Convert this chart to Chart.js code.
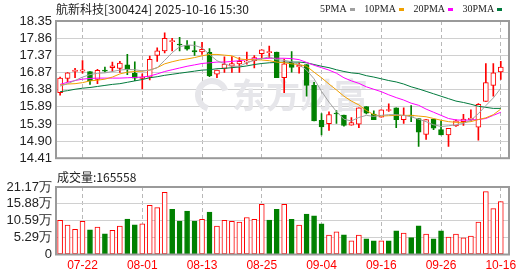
<!DOCTYPE html>
<html>
<head>
<meta charset="utf-8">
<title>航新科技 K线</title>
<script src="https://cdn.jsdelivr.net/npm/chart.js@4.4.1/dist/chart.umd.min.js"></script>
<style>
    html, body { margin: 0; padding: 0; background: #fff; }
    #wrap { position: relative; width: 530px; height: 276px; overflow: hidden; font-family: "Noto Sans CJK SC", sans-serif; color: #222; }
    #kChart { position: absolute; left: 0; top: 0; }
    #volChart { position: absolute; left: 0; top: 170px; }
    .title { position: absolute; left: 56px; top: 0; font-size: 12px; line-height: 17px; white-space: nowrap; }
    .legend { position: absolute; left: 320px; top: 2px; font-family: "Liberation Serif", serif; font-size: 10px; line-height: 13px; white-space: nowrap; }
    .legend span { margin-right: 7px; }
    .legend i { display: inline-block; width: 5px; height: 3px; margin-left: 3px; vertical-align: middle; }
    .volTitle { position: absolute; left: 57px; top: 168px; font-size: 12px; line-height: 17px; white-space: nowrap; }
</style>
</head>
<body>
<div id="wrap">
    <canvas id="kChart" width="530" height="170"></canvas>
    <canvas id="volChart" width="530" height="106"></canvas>
    <div class="title">航新科技[300424] 2025-10-16 15:30</div>
    <div class="legend">
        <span>5PMA<i style="background:#a0a0a0"></i></span>
        <span>10PMA<i style="background:#f0a000"></i></span>
        <span>20PMA<i style="background:#ff00ff"></i></span>
        <span>30PMA<i style="background:#007a3d"></i></span>
    </div>
    <div class="volTitle">成交量:165558</div>
</div>

<script>
    const dates = [
        '07-17', '07-18', '07-21', '07-22', '07-23', '07-24', '07-25', '07-28', '07-29', '07-30', '07-31',
        '08-01', '08-04', '08-05', '08-06', '08-07', '08-08', '08-11', '08-12', '08-13', '08-14', '08-15',
        '08-18', '08-19', '08-20', '08-21', '08-22', '08-25', '08-26', '08-27', '08-28', '08-29',
        '09-01', '09-02', '09-03', '09-04', '09-05', '09-08', '09-09', '09-10', '09-11', '09-12',
        '09-15', '09-16', '09-17', '09-18', '09-19', '09-22', '09-23', '09-24', '09-25', '09-26',
        '09-29', '09-30', '10-09', '10-10', '10-13', '10-14', '10-15', '10-16',
    ]
    const open = [
        16.29, 16.70, 16.90, 16.91, 16.90, 16.67, 16.92, 17.01, 16.99, 17.09,
        16.85, 16.70, 16.74, 17.36, 17.49, 17.76, 17.68, 17.65, 17.50, 17.46,
        17.45, 16.82, 16.99, 17.05, 17.12, 17.17, 17.21, 17.41, 17.44, 17.46,
        16.72, 17.17, 17.03, 17.10, 16.50, 15.50, 15.40, 15.70, 15.65, 15.36,
        15.39, 15.89, 15.68, 15.59, 15.78, 15.86, 15.52, 15.64, 15.55, 15.09,
        15.53, 15.23, 15.08, 15.34, 15.46, 15.52, 15.30, 16.04, 16.50, 16.89,
    ]
    const high = [
        16.74, 16.87, 16.99, 17.21, 16.90, 16.96, 17.03, 17.17, 17.19, 17.39,
        17.18, 16.83, 17.34, 17.58, 18.01, 17.85, 17.88, 17.79, 17.76, 17.74,
        17.56, 16.94, 17.32, 17.33, 17.30, 17.46, 17.36, 17.52, 17.63, 17.46,
        17.26, 17.47, 17.15, 17.10, 16.59, 15.69, 15.74, 15.78, 15.65, 15.58,
        15.86, 15.89, 15.77, 15.80, 15.97, 15.86, 15.86, 15.92, 15.55, 15.52,
        15.53, 15.48, 15.27, 15.51, 15.67, 15.80, 15.98, 17.13, 17.13, 17.19,
    ]
    const low = [
        16.22, 16.60, 16.72, 16.85, 16.53, 16.55, 16.89, 16.90, 16.87, 16.81,
        16.64, 16.40, 16.66, 17.19, 17.43, 17.49, 17.49, 17.51, 17.36, 17.39,
        16.75, 16.72, 16.87, 16.87, 16.87, 17.11, 17.00, 17.28, 17.29, 16.72,
        16.29, 16.88, 16.85, 16.19, 15.48, 15.08, 15.21, 15.41, 15.33, 15.36,
        15.29, 15.68, 15.52, 15.59, 15.75, 15.29, 15.41, 15.46, 14.75, 14.95,
        15.23, 15.08, 14.75, 15.32, 15.35, 15.48, 14.93, 16.04, 16.19, 16.67,
    ]
    const close = [
        16.71, 16.86, 16.94, 16.95, 16.64, 16.93, 16.91, 17.06, 17.14, 16.96,
        16.71, 16.74, 17.25, 17.49, 17.85, 17.78, 17.66, 17.54, 17.46, 17.54,
        16.77, 16.94, 17.11, 17.13, 17.19, 17.20, 17.30, 17.52, 17.47, 16.72,
        17.12, 17.02, 17.08, 16.50, 15.48, 15.31, 15.66, 15.68, 15.35, 15.43,
        15.86, 15.70, 15.52, 15.80, 15.80, 15.52, 15.64, 15.62, 15.16, 15.52,
        15.27, 15.08, 15.27, 15.48, 15.53, 15.56, 15.96, 16.58, 16.86, 17.03,
    ]
    const ma5 = [
        16.48, 16.55, 16.64, 16.74, 16.81, 16.85, 16.86, 16.90, 16.94, 16.96,
        16.95, 16.92, 16.94, 17.01, 17.22, 17.44, 17.61, 17.66, 17.65, 17.58,
        17.39, 17.21, 17.12, 17.05, 17.05, 17.15, 17.22, 17.27, 17.32, 17.24,
        17.22, 17.18, 17.10, 16.94, 16.69, 16.33, 16.02, 15.75, 15.53, 15.48,
        15.58, 15.64, 15.61, 15.64, 15.66, 15.66, 15.64, 15.60, 15.53, 15.46,
        15.37, 15.32, 15.34, 15.37, 15.41, 15.50, 15.69, 15.92, 16.14, 16.42,
    ]
    const ma10 = [
        16.51, 16.54, 16.55, 16.58, 16.63, 16.65, 16.68, 16.74, 16.83, 16.88,
        16.90, 16.91, 16.94, 17.01, 17.12, 17.18, 17.23, 17.26, 17.30, 17.35,
        17.39, 17.39, 17.37, 17.35, 17.26, 17.24, 17.24, 17.23, 17.21, 17.17,
        17.15, 17.12, 17.10, 17.05, 16.88, 16.72, 16.54, 16.37, 16.19, 16.05,
        15.94, 15.78, 15.66, 15.62, 15.63, 15.64, 15.64, 15.64, 15.62, 15.60,
        15.55, 15.50, 15.46, 15.44, 15.44, 15.46, 15.52, 15.57, 15.66, 15.82,
    ]
    const ma20 = [
        16.53, 16.59, 16.64, 16.68, 16.70, 16.71, 16.71, 16.71, 16.71, 16.72,
        16.73, 16.74, 16.77, 16.83, 16.90, 16.95, 17.00, 17.05, 17.09, 17.13,
        17.15, 17.17, 17.17, 17.19, 17.21, 17.24, 17.26, 17.27, 17.28, 17.28,
        17.28, 17.27, 17.24, 17.16, 17.08, 17.01, 16.94, 16.85, 16.72, 16.63,
        16.56, 16.46, 16.39, 16.32, 16.23, 16.15, 16.08, 15.99, 15.93, 15.82,
        15.73, 15.64, 15.55, 15.51, 15.50, 15.51, 15.52, 15.55, 15.64, 15.73,
    ]
    const ma30 = [
        16.32, 16.35, 16.39, 16.42, 16.44, 16.47, 16.50, 16.53, 16.55, 16.59,
        16.63, 16.67, 16.72, 16.75, 16.79, 16.82, 16.85, 16.88, 16.91, 16.94,
        16.95, 16.98, 16.99, 17.01, 17.03, 17.06, 17.10, 17.13, 17.15, 17.16,
        17.17, 17.17, 17.17, 17.15, 17.10, 17.05, 17.01, 16.95, 16.90, 16.86,
        16.84, 16.78, 16.74, 16.69, 16.64, 16.60, 16.54, 16.46, 16.40, 16.33,
        16.26, 16.19, 16.12, 16.05, 16.01, 15.96, 15.90, 15.87, 15.84, 15.84,
    ]
    // volume in 万手
    const volume = [
        10.7, 9.2, 7.9, 10.4, 7.7, 8.6, 6.5, 7.6, 8.9, 11.1,
        9.3, 9.6, 15.4, 14.7, 19.5, 14.2, 10.5, 13.6, 10.5, 11.0,
        13.3, 8.9, 10.7, 10.4, 10.2, 11.6, 11.0, 15.7, 10.8, 14.2,
        15.7, 11.0, 9.2, 12.7, 12.1, 9.6, 6.1, 7.1, 6.2, 4.3,
        6.1, 4.9, 4.3, 4.3, 4.3, 7.4, 6.7, 5.3, 9.0, 6.4,
        4.9, 7.4, 5.5, 6.4, 5.2, 5.8, 10.2, 19.7, 14.4, 16.56,
    ]
    const priceTicks = [14.41, 14.90, 15.39, 15.89, 16.38, 16.87, 17.37, 17.86, 18.35]
    const volTicks = [0, 5.29, 10.59, 15.88, 21.17]
    const dateTicks = ['07-22', '08-01', '08-13', '08-25', '09-04', '09-16', '09-26', '10-16']

    const RED = '#ff0000'
    const GREEN = '#008000'
    const tickIdx = dateTicks.map(d => dates.indexOf(d))
    const xMin = -0.55, xMax = 60.1

    const isUp = i => close[i] > open[i]
    const volUp = i => i === 0 || close[i] > close[i - 1]
    const pts = arr => arr.map((v, i) => ({ x: i, y: v }))

    // grey frame around the plot area
    const framePlugin = {
        id: 'frame',
        afterDraw(chart) {
            const { ctx, chartArea: a } = chart
            ctx.save()
            ctx.strokeStyle = '#9a9a9a'
            ctx.lineWidth = 2
            ctx.strokeRect(a.left, a.top, a.right - a.left, a.bottom - a.top)
            ctx.restore()
        },
    }

    // faint watermark behind the candles
    const watermark = {
        id: 'watermark',
        beforeDatasetsDraw(chart) {
            const { ctx } = chart
            ctx.save()
            ctx.fillStyle = '#e6e6ea'
            ctx.strokeStyle = '#e6e6ea'
            ctx.lineWidth = 6
            ctx.beginPath()
            ctx.arc(212, 95, 14, Math.PI * 0.6, Math.PI * 1.9)
            ctx.stroke()
            ctx.font = 'bold 34px "Noto Sans CJK SC"'
            ctx.textBaseline = 'middle'
            ctx.fillText('东方财富', 232, 95)
            ctx.restore()
        },
    }

    const xScale = (showLabels) => ({
        type: 'linear',
        min: xMin,
        max: xMax,
        offset: false,
        afterBuildTicks: s => { s.ticks = tickIdx.map(v => ({ value: v })) },
        ticks: {
            display: showLabels,
            autoSkip: false,
            maxRotation: 0,
            padding: 4,
            color: RED,
            font: { family: '"Liberation Sans", Arial', size: 12 },
            callback: v => dates[v],
        },
        grid: { color: '#b8b8b8', drawTicks: false, offset: false },
        border: { display: false, dash: [4, 3] },
        afterFit: s => { s.height = showLabels ? 21.5 : 0 },
    })

    const yScale = (min, max, ticks, fmt) => ({
        min,
        max,
        afterBuildTicks: s => { s.ticks = ticks.map(v => ({ value: v })) },
        ticks: {
            color: '#222',
            padding: 4,
            autoSkip: false,
            font: { family: '"Liberation Sans", Arial', size: 13 },
            callback: fmt,
        },
        grid: { color: '#d0d0d0', drawTicks: false },
        border: { display: false },
        afterFit: s => { s.width = 56 },
    })

    const maLine = (data, color) => ({
        type: 'line',
        data: pts(data),
        borderColor: color,
        borderWidth: 1,
        pointRadius: 0,
        tension: 0,
        order: 0,
    })

    new Chart(document.getElementById('kChart'), {
        data: {
            datasets: [
                maLine(ma5, '#a0a0a0'),
                maLine(ma10, '#f0a000'),
                maLine(ma20, '#ff00ff'),
                maLine(ma30, '#007a3d'),
                {
                    type: 'bar',
                    data: dates.map((d, i) => ({ x: i, y: [open[i], close[i]] })),
                    backgroundColor: c => (isUp(c.dataIndex) ? '#ffffff' : GREEN),
                    borderColor: c => (isUp(c.dataIndex) ? RED : GREEN),
                    borderWidth: 1,
                    borderSkipped: false,
                    barThickness: 5,
                    minBarLength: 1,
                    grouped: false,
                    order: 1,
                },
                {
                    type: 'bar',
                    data: dates.map((d, i) => ({ x: i, y: [low[i], high[i]] })),
                    backgroundColor: c => (isUp(c.dataIndex) ? RED : GREEN),
                    barThickness: 1,
                    grouped: false,
                    order: 2,
                },
            ],
        },
        options: {
            responsive: false,
            animation: false,
            layout: { padding: { top: 21, right: 21, bottom: 5, left: 0 } },
            plugins: { legend: { display: false }, tooltip: { enabled: false } },
            scales: {
                x: xScale(false),
                y: yScale(14.41, 18.35, priceTicks, v => v.toFixed(2)),
            },
        },
        plugins: [watermark, framePlugin],
    })

    new Chart(document.getElementById('volChart'), {
        data: {
            datasets: [
                {
                    type: 'bar',
                    data: pts(volume),
                    backgroundColor: c => (volUp(c.dataIndex) ? '#ffffff' : GREEN),
                    borderColor: c => (volUp(c.dataIndex) ? RED : GREEN),
                    borderWidth: 1,
                    borderSkipped: false,
                    barThickness: 5,
                    grouped: false,
                },
            ],
        },
        options: {
            responsive: false,
            animation: false,
            layout: { padding: { top: 17, right: 21, bottom: 0, left: 0 } },
            plugins: { legend: { display: false }, tooltip: { enabled: false } },
            scales: {
                x: xScale(true),
                y: yScale(0, 21.17, volTicks, v => (v === 0 ? '0' : v.toFixed(2) + '万')),
            },
        },
        plugins: [framePlugin],
    })
</script>
</body>
</html>
